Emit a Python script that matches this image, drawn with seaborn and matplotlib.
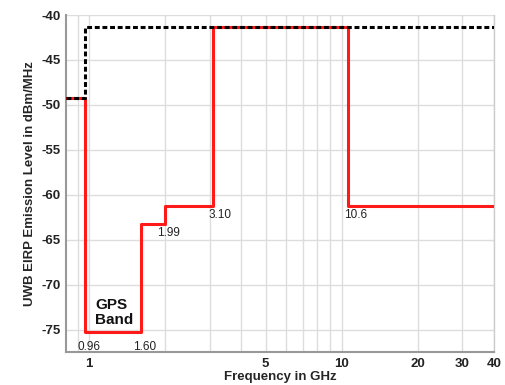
import matplotlib
matplotlib.use("Agg")
import matplotlib.pyplot as plt
import matplotlib.ticker as mticker
import seaborn as sns
import pandas as pd

# Data
mask_freq = [0.81, 0.96, 1.61, 1.99, 3.10, 10.6, 40.0]
mask_level = [-49.2, -75.3, -63.3, -61.3, -41.3, -61.3, -61.3]
limit_freq = [0.81, 0.96, 40.0]
limit_level = [-49.2, -41.3, -41.3]
edge_labels = ["0.96", "1.60", "1.99", "3.10", "10.6"]
edge_pos = [(0.995, -76.9), (1.66, -76.9), (2.06, -64.3), (3.3, -62.2), (11.3, -62.2)]
x_ticks = [1, 5, 10, 20, 30, 40]
y_ticks = [-40, -45, -50, -55, -60, -65, -70, -75]

sns.set_style("white")
plt.rcParams["font.family"] = ["Liberation Sans", "DejaVu Sans"]

fig = plt.figure(figsize=(5.05, 3.85), dpi=100)
ax = fig.add_axes([0.1307, 0.0857, 0.8473, 0.8753])

mask_df = pd.DataFrame({"f": mask_freq, "l": mask_level})
limit_df = pd.DataFrame({"f": limit_freq, "l": limit_level})
sns.lineplot(data=mask_df, x="f", y="l", ax=ax, sort=False, estimator=None,
             drawstyle="steps-post", color="#ff1a1a", linewidth=2.2, zorder=3)
sns.lineplot(data=limit_df, x="f", y="l", ax=ax, sort=False, estimator=None,
             drawstyle="steps-post", color="black", linewidth=2.2,
             linestyle=(0, (1.6, 0.9)), zorder=4)

ax.set_xscale("log")
ax.set_xlim(0.81, 40)
ax.set_ylim(-77.5, -40)
ax.xaxis.set_major_locator(mticker.FixedLocator(x_ticks))
ax.xaxis.set_major_formatter(mticker.FixedFormatter([str(t) for t in x_ticks]))
ax.xaxis.set_minor_locator(mticker.LogLocator(base=10, subs=range(1, 10)))
ax.xaxis.set_minor_formatter(mticker.NullFormatter())
ax.set_yticks(y_ticks)
ax.set_yticklabels([str(t) for t in y_ticks])

ax.grid(True, which="both", axis="x", color="#dddddd", linewidth=1.0)
ax.grid(True, which="major", axis="y", color="#dddddd", linewidth=1.0)
ax.set_axisbelow(True)

for s in ["left", "bottom"]:
    ax.spines[s].set_color("#999999")
    ax.spines[s].set_linewidth(1.5)
ax.spines["right"].set_color("#cccccc")
ax.spines["right"].set_linewidth(1.0)
ax.spines["top"].set_visible(False)

ax.tick_params(axis="both", which="both", length=0, labelsize=9.5, pad=4)
for lab in ax.get_xticklabels() + ax.get_yticklabels():
    lab.set_fontweight("bold")
    lab.set_color("#222222")

ax.set_xlabel("Frequency in GHz", fontsize=9.5, fontweight="bold", labelpad=1)
ax.set_ylabel("UWB EIRP Emission Level in dBm/MHz", fontsize=9.5, fontweight="bold", labelpad=4)

for txt, (x, y) in zip(edge_labels, edge_pos):
    ax.text(x, y, txt, fontsize=8.5, ha="center", va="center", color="#222222")

ax.text(1.055, -73.1, "GPS\nBand", fontsize=11, fontweight="bold", ha="left",
        multialignment="left", va="center", linespacing=1.15, color="#111111")

fig.savefig("out.png", dpi=100)
